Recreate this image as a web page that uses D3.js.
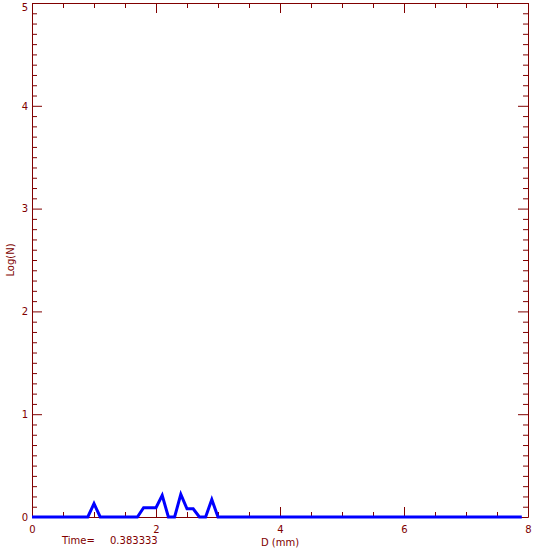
<!DOCTYPE html>
<html>
<head>
<meta charset="utf-8">
<script src="https://cdn.jsdelivr.net/npm/d3@7"></script>
<style>
  html, body { margin: 0; padding: 0; background: #fff; }
  svg { display: block; }
  text { font-family: "DejaVu Sans", sans-serif; }
</style>
</head>
<body>
<svg id="chart" width="541" height="554"></svg>
<script>
// Data
const diameters = [0, 0.9, 1.0, 1.1, 1.7, 1.8, 1.9, 2.0, 2.1, 2.2, 2.3, 2.4, 2.5, 2.6, 2.7, 2.8, 2.9, 3.0, 7.9];
const logN      = [0, 0,   0.13, 0,  0,   0.09, 0.09, 0.09, 0.21, 0, 0,  0.22, 0.08, 0.08, 0, 0,   0.17, 0,   0];
const xTicks = [0, 2, 4, 6, 8];
const yTicks = [0, 1, 2, 3, 4, 5];
const xTitle = "D (mm)";
const yTitle = "Log(N)";
const timeLabel = "Time=";
const timeValue = "0.383333";

const axisColor = "#800000";
const lineColor = "#0000ff";

const svg = d3.select("#chart");
const mLeft = 32, mRight = 528, mTop = 3, mBottom = 517;

const x = d3.scaleLinear().domain([0, 8]).range([mLeft, mRight]);
const y = d3.scaleLinear().domain([0, 5]).range([mBottom, mTop]);

const xMinor = d3.range(0, 17).map(v => v / 2).filter(v => !xTicks.includes(v));
const yMinor = d3.range(0, 51).map(v => v / 10).filter(v => !yTicks.includes(v));

function style(g) {
  g.selectAll("path, line").attr("stroke", axisColor).attr("stroke-width", 1);
  g.selectAll("text").attr("fill", axisColor).attr("font-size", 10)
    .attr("font-family", '"DejaVu Sans", sans-serif');
}

// Bottom axis
svg.append("g").attr("transform", `translate(0,${mBottom})`)
  .call(d3.axisBottom(x).tickValues(xTicks).tickFormat(d3.format("d"))
    .tickSizeInner(-10).tickSizeOuter(0).tickPadding(8.5)).call(style);
svg.append("g").attr("transform", `translate(0,${mBottom})`)
  .call(d3.axisBottom(x).tickValues(xMinor).tickFormat("")
    .tickSizeInner(-5).tickSizeOuter(0)).call(style).select(".domain").remove();
// Top axis
svg.append("g").attr("transform", `translate(0,${mTop})`)
  .call(d3.axisTop(x).tickValues(xTicks).tickFormat("")
    .tickSizeInner(-10).tickSizeOuter(0)).call(style);
svg.append("g").attr("transform", `translate(0,${mTop})`)
  .call(d3.axisTop(x).tickValues(xMinor).tickFormat("")
    .tickSizeInner(-5).tickSizeOuter(0)).call(style).select(".domain").remove();
// Left axis
const leftAxis = svg.append("g").attr("transform", `translate(${mLeft},0)`)
  .call(d3.axisLeft(y).tickValues(yTicks).tickFormat(d3.format("d"))
    .tickSizeInner(-10).tickSizeOuter(0).tickPadding(4)).call(style);
leftAxis.selectAll(".tick text").filter(d => d === 5).attr("dy", "0.75em");
svg.append("g").attr("transform", `translate(${mLeft},0)`)
  .call(d3.axisLeft(y).tickValues(yMinor).tickFormat("")
    .tickSizeInner(-5).tickSizeOuter(0)).call(style).select(".domain").remove();
// Right axis
svg.append("g").attr("transform", `translate(${mRight},0)`)
  .call(d3.axisRight(y).tickValues(yTicks).tickFormat("")
    .tickSizeInner(-10).tickSizeOuter(0)).call(style);
svg.append("g").attr("transform", `translate(${mRight},0)`)
  .call(d3.axisRight(y).tickValues(yMinor).tickFormat("")
    .tickSizeInner(-5).tickSizeOuter(0)).call(style).select(".domain").remove();

// Data line
const pts = diameters.map((d, i) => [d, logN[i]]);
svg.append("path")
  .datum(pts)
  .attr("fill", "none")
  .attr("stroke", lineColor)
  .attr("stroke-width", 3)
  .attr("stroke-linejoin", "miter")
  .attr("d", d3.line().x(d => x(d[0])).y(d => y(d[1])));

// Titles
svg.append("text").attr("x", (mLeft + mRight) / 2).attr("y", 546)
  .attr("text-anchor", "middle").attr("fill", axisColor).attr("font-size", 10)
  .text(xTitle);
svg.append("text")
  .attr("transform", `translate(14,${(mTop + mBottom) / 2}) rotate(-90)`)
  .attr("text-anchor", "middle").attr("fill", axisColor).attr("font-size", 10)
  .text(yTitle);
svg.append("text").attr("x", 62).attr("y", 543.5)
  .attr("fill", axisColor).attr("font-size", 10).text(timeLabel);
svg.append("text").attr("x", 110).attr("y", 543.5)
  .attr("fill", axisColor).attr("font-size", 10).text(timeValue);
</script>
</body>
</html>
